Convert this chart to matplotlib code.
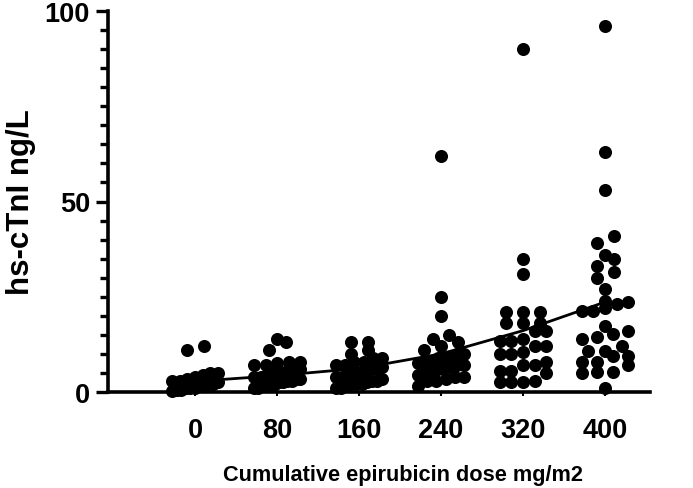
import matplotlib
matplotlib.use("Agg")
import matplotlib.pyplot as plt
import numpy as np

doses = ["0", "80", "160", "240", "320", "400"]

g0 = [12, 11, 5, 5, 4.5, 4, 3.5, 3, 3, 2.5, 2, 2, 1.5, 1.5, 1, 1, 1, 0.5, 0.5, 0.2]
g80 = [14, 13, 11, 8, 8, 7.5, 7, 7, 6, 6, 5.5, 5, 5, 4.5, 4, 4, 3.5, 3.5, 3, 3,
       2.5, 2.5, 2, 2, 1.5, 1.5, 1, 1]
g160 = [13, 13, 11, 10, 9, 9, 8, 8, 7, 7, 6.5, 6, 6, 5.5, 5, 5, 4.5, 4, 4, 3.5,
        3, 3, 2.5, 2, 2, 2, 1.5, 1, 1]
g240 = [62, 25, 20, 15, 14, 13, 12, 11, 10, 10, 9.5, 9, 9, 8, 8, 7.5, 7, 7, 6.5,
        6, 6, 5, 5, 4.5, 4, 4, 3.5, 3, 3, 1.5]
g320 = [90, 35, 31, 21, 21, 21, 18, 18, 18, 16, 16, 14, 13.5, 13.5, 12, 12, 10.5,
        10, 10, 8, 7, 7, 5.5, 5.5, 5, 3, 2.7, 2.7, 2.5]
g400 = [96, 63, 53, 41, 39, 36, 35, 33, 31.5, 30, 27, 24, 23.5, 23, 22, 21.3,
        21.3, 17.3, 16, 15.2, 14.4, 14, 12, 10.8, 10.8, 9.4, 9.4, 8, 7, 8, 5.2,
        5.2, 5, 1]
groups = [g0, g80, g160, g240, g320, g400]

curve = [2.8, 4.3, 6.2, 10.0, 16.1, 23.6]

plt.rcParams["font.family"] = ["Liberation Sans", "DejaVu Sans"]
plt.rcParams["font.weight"] = "bold"

fig = plt.figure(figsize=(6.93, 4.89), dpi=100)
ax = fig.add_axes([108 / 693, 96 / 489, (650 - 108) / 693, (393 - 12) / 489])

XSTEP_PX = 82.0      # pixels per category
ROW_H = 2.6          # data units grouped in one row
GAP_PX = 17.0        # horizontal spacing between dots
MAXW_PX = 46.0       # max total width of a row


def layout(vals):
    v = np.sort(np.asarray(vals, float))
    xs, ys = [], []
    i = 0
    while i < len(v):
        j = i
        while j < len(v) and v[j] - v[i] < ROW_H:
            j += 1
        k = j - i
        s = min(GAP_PX, MAXW_PX / (k - 1)) if k > 1 else 0
        offs = (np.arange(k) - (k - 1) / 2) * s
        xs.extend(offs / XSTEP_PX)
        ys.extend(v[i:j])
        i = j
    return np.array(xs), np.array(ys)


for ci, g in enumerate(groups):
    xo, yv = layout(g)
    ax.scatter(ci + xo, yv, s=9.4 ** 2, color="black", linewidths=0,
               zorder=3, clip_on=False)

ax.plot(range(len(doses)), curve, color="black", lw=2.0, zorder=2,
        solid_capstyle="butt")

ax.set_xticks(range(len(doses)))
ax.set_xticklabels(doses)
ax.set_xlim((108 - 195) / 82, (650 - 195) / 82)
ax.set_ylim(0, 100)
ax.set_yticks([0, 50, 100])
ax.set_yticks(np.arange(0, 101, 5), minor=True)

for s in ["top", "right"]:
    ax.spines[s].set_visible(False)
for s in ["left", "bottom"]:
    ax.spines[s].set_linewidth(2.6)

ax.tick_params(axis="y", which="major", length=9, width=2.4, labelsize=19.5, pad=4)
ax.tick_params(axis="y", which="minor", length=6, width=2.4)
ax.tick_params(axis="x", which="major", length=3, width=1.5, labelsize=19.5, pad=15)
for lab in ax.get_xticklabels() + ax.get_yticklabels():
    lab.set_fontweight("bold")

ax.set_xlabel("Cumulative epirubicin dose mg/m2", fontsize=15.7, fontweight="bold")
ax.xaxis.set_label_coords((403 - 108) / 542, -(476 - 393) / 381)
ax.xaxis.label.set_va("center")
ax.set_ylabel("hs-cTnI ng/L", fontsize=22.5, fontweight="bold", labelpad=6)

fig.savefig("out.png", dpi=100)
